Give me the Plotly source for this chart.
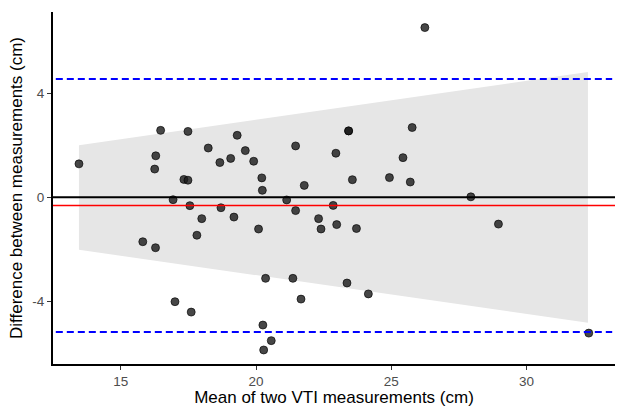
import plotly.graph_objects as go

# Data
mean_vti = [13.45, 16.47, 16.29, 16.25, 17.48, 17.33, 17.48, 18.23, 18.66, 19.06,
            19.30, 19.60, 19.91, 20.21, 20.23, 21.46, 21.78, 22.95, 16.93, 21.13,
            26.24, 23.42, 23.42, 25.77, 25.43, 23.56, 24.93, 25.70, 27.94, 17.55,
            18.70, 17.99, 19.18, 17.81, 15.81, 16.28, 20.09, 21.46, 22.31, 22.40,
            22.85, 22.98, 20.35, 21.36, 21.66, 17.00, 17.60, 20.25, 20.56, 20.28,
            23.71, 23.36, 24.15, 28.96, 32.30]
diff_vti = [1.29, 2.58, 1.60, 1.09, 2.54, 0.69, 0.66, 1.90, 1.34, 1.50,
            2.39, 1.80, 1.39, 0.75, 0.27, 1.98, 0.46, 1.70, -0.09, -0.10,
            6.54, 2.56, 2.56, 2.69, 1.53, 0.68, 0.76, 0.59, 0.02, -0.32,
            -0.40, -0.82, -0.76, -1.46, -1.71, -1.94, -1.22, -0.51, -0.82, -1.22,
            -0.31, -1.05, -3.12, -3.12, -3.92, -4.02, -4.42, -4.92, -5.52, -5.88,
            -1.20, -3.30, -3.72, -1.03, -5.23]

bias = -0.315
loa_upper = 4.56
loa_lower = -5.19

band_x = [13.45, 32.27]
band_upper = [2.01, 4.83]
band_lower = [-2.02, -4.83]

x_ticks = [15, 20, 25, 30]
y_ticks = [-4, 0, 4]
y_tick_text = ["-4", "0", "4"]

fig = go.Figure()

# grey band
fig.add_trace(go.Scatter(
    x=band_x + band_x[::-1],
    y=band_upper + band_lower[::-1],
    fill="toself", fillcolor="#e6e6e6", mode="lines",
    line=dict(width=0), hoverinfo="skip", showlegend=False))

# reference lines
fig.add_shape(type="line", xref="paper", x0=0, x1=1, yref="y", y0=0, y1=0,
              line=dict(color="black", width=2))
fig.add_shape(type="line", xref="paper", x0=0, x1=1, yref="y", y0=bias, y1=bias,
              line=dict(color="#ff0000", width=1.3))
for v in (loa_upper, loa_lower):
    fig.add_shape(type="line", xref="paper", x0=0.005, x1=0.995, yref="y", y0=v, y1=v,
                  line=dict(color="#0000ff", width=2, dash="7px,4px"))

# points
fig.add_trace(go.Scatter(
    x=mean_vti, y=diff_vti, mode="markers",
    marker=dict(size=8, color="rgba(25,25,25,0.8)",
                line=dict(color="rgba(0,0,0,0.8)", width=0.8)),
    showlegend=False))

fig.update_layout(
    width=619, height=407,
    margin=dict(l=53, r=4, t=12, b=43),
    paper_bgcolor="white", plot_bgcolor="white",
    font=dict(family="Liberation Sans, Arial, sans-serif", color="black"),
    xaxis=dict(range=[12.49, 33.27], tickvals=x_ticks, showgrid=False, zeroline=False,
               automargin=False,
               showline=True, linecolor="black", linewidth=2,
               ticks="outside", ticklen=4, tickcolor="#333333", tickwidth=1,
               tickfont=dict(size=13.5, color="#4d4d4d"),
               title=dict(text="Mean of two VTI measurements (cm)",
                          font=dict(size=17, color="black"), standoff=1)),
    yaxis=dict(range=[-6.42, 7.14], tickvals=y_ticks, ticktext=y_tick_text,
               showgrid=False, zeroline=False, automargin=False,
               showline=True, linecolor="black", linewidth=2,
               ticks="outside", ticklen=4, tickcolor="#333333", tickwidth=1,
               tickfont=dict(size=13.5, color="#4d4d4d"),
               title=dict(text="Difference between measurements (cm)",
                          font=dict(size=17, color="black"), standoff=5)),
)

fig.write_html("out.html", config={"displayModeBar": False},
               post_script="document.body.style.margin='0';document.body.style.padding='0';document.body.style.overflow='hidden';")
